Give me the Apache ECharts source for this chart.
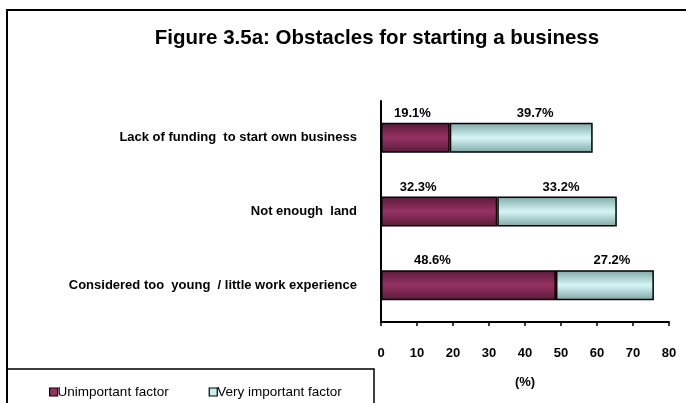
<!DOCTYPE html>
<html>
<head>
<meta charset="utf-8">
<script src="https://cdn.jsdelivr.net/npm/echarts@6/dist/echarts.min.js"></script>
<style>
  html, body { margin: 0; padding: 0; background: #fff; }
  #chart { width: 686px; height: 403px; }
</style>
</head>
<body>
<div id="chart"></div>
<script>
// Obstacles for starting a business (% of respondents)
const categories = [
  'Lack of funding  to start own business',
  'Not enough  land',
  'Considered too  young  / little work experience'
];
const unimportant = [19.1, 32.3, 48.6];
const veryImportant = [39.7, 33.2, 27.2];
const xTicks = [0, 10, 20, 30, 40, 50, 60, 70, 80];

// Hand-placed value labels sit slightly off-centre above each segment
const unimportantLabelShift = [-3, -21, -36];
const veryImportantLabelShift = [14, 4, 7];

const FONT = 'Liberation Sans, Arial, sans-serif';

function band(edge, mid) {
  return new echarts.graphic.LinearGradient(0, 0, 0, 1, [
    { offset: 0, color: edge },
    { offset: 0.5, color: mid },
    { offset: 1, color: edge }
  ]);
}

const maroon = band('#5a1a3a', '#953262');
const aqua = band('#7fa6a6', '#d6f6f6');

function buildData(values, shifts) {
  return values.map((v, i) => ({
    value: v,
    label: { offset: [shifts[i], 0] }
  }));
}

const valueLabel = {
  show: true,
  position: 'top',
  distance: 3,
  color: '#000',
  fontFamily: FONT,
  fontWeight: 'bold',
  fontSize: 13,
  formatter: p => p.value.toFixed(1) + '%'
};

const chart = echarts.init(document.getElementById('chart'), null, { renderer: 'canvas' });

chart.setOption({
  animation: false,
  backgroundColor: '#fff',
  textStyle: { fontFamily: FONT },
  title: {
    text: 'Figure 3.5a: Obstacles for starting a business',
    left: 372,
    textAlign: 'center',
    top: 23,
    textStyle: { fontFamily: FONT, fontWeight: 'bold', fontSize: 20.5, color: '#000' }
  },
  graphic: [
    {
      type: 'rect',
      shape: { x: 7, y: 10, width: 700, height: 420 },
      style: { fill: 'none', stroke: '#000', lineWidth: 2 },
      silent: true,
      z: -1
    },
    {
      type: 'rect',
      shape: { x: 7, y: 369, width: 367, height: 60 },
      style: { fill: 'none', stroke: '#000', lineWidth: 1.5 },
      silent: true,
      z: -1
    }
  ],
  legend: {
    left: 44,
    top: 380,
    icon: 'rect',
    itemWidth: 8,
    itemHeight: 8,
    itemGap: 40,
    textStyle: { fontFamily: FONT, fontSize: 13.5, color: '#000', padding: [0, 0, 0, -5] },
    itemStyle: { borderColor: '#000', borderWidth: 1.2 },
    data: [
      { name: 'Unimportant factor', itemStyle: { color: '#953262' } },
      { name: 'Very important factor', itemStyle: { color: '#c8eeee' } }
    ]
  },
  grid: { left: 381, right: 17, top: 101, bottom: 81 },
  xAxis: {
    type: 'value',
    min: xTicks[0],
    max: xTicks[xTicks.length - 1],
    interval: 10,
    name: '(%)',
    nameLocation: 'middle',
    nameGap: 54,
    nameTextStyle: { fontFamily: FONT, fontWeight: 'bold', fontSize: 13, color: '#000' },
    axisLine: { show: true, lineStyle: { color: '#000', width: 2 } },
    axisTick: { show: true, length: 4, inside: false, lineStyle: { color: '#000', width: 1.5 } },
    axisLabel: { margin: 25, fontFamily: FONT, fontWeight: 'bold', fontSize: 13, color: '#000' },
    splitLine: { show: false }
  },
  yAxis: {
    type: 'category',
    inverse: true,
    data: categories,
    axisLine: { show: true, lineStyle: { color: '#000', width: 2 } },
    axisTick: { show: false },
    axisLabel: { margin: 24, fontFamily: FONT, fontWeight: 'bold', fontSize: 13, color: '#000' }
  },
  series: [
    {
      name: 'Unimportant factor',
      type: 'bar',
      stack: 'total',
      barWidth: 30,
      data: buildData(unimportant, unimportantLabelShift),
      itemStyle: { color: maroon, borderColor: '#000', borderWidth: 1.5 },
      label: valueLabel
    },
    {
      name: 'Very important factor',
      type: 'bar',
      stack: 'total',
      barWidth: 30,
      data: buildData(veryImportant, veryImportantLabelShift),
      itemStyle: { color: aqua, borderColor: '#000', borderWidth: 1.5 },
      label: valueLabel
    }
  ]
});
</script>
</body>
</html>
